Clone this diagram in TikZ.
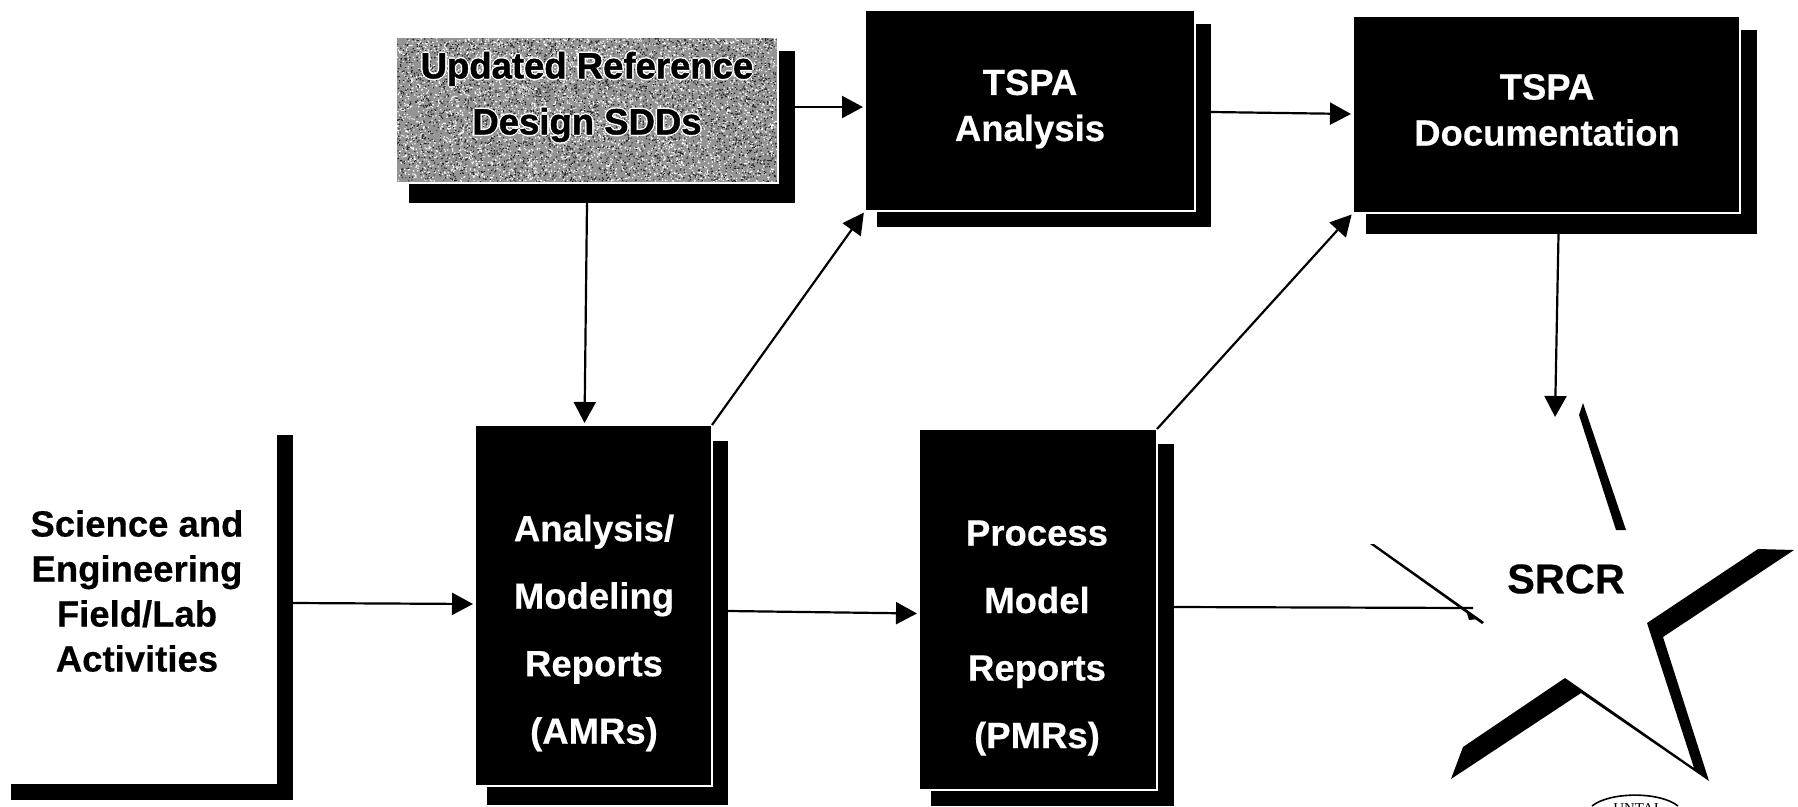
\documentclass[tikz,border=0pt]{standalone}
\usepackage{fontspec}
\setmainfont{Liberation Sans}[BoldFeatures={FakeBold=0.4}]
\newfontfamily\sealfont{Liberation Serif}
\newfontfamily\heavyfont{Liberation Sans Bold}[FakeBold=1.2]
\usetikzlibrary{arrows.meta}
\tikzset{
  px/.style={x=1pt,y=-1pt},
  solid box/.style={draw=none,fill=black,inner sep=0pt,outer sep=0pt},
  pane/.style={solid box,draw=white,line width=1.5pt},
  slab/.style={solid box,anchor=north west},
  arr/.style={line width=2.2pt,shorten >=2pt,-{Triangle[length=21pt,width=22pt]}},
  label/.style={inner sep=0pt,align=center,font=\bfseries\fontsize{36.5}{45}\selectfont},
  wide label/.style={label,text=white,font=\bfseries\fontsize{36.5}{46}\selectfont},
  tall label/.style={label,text=white,font=\bfseries\fontsize{36.5}{67.5}\selectfont},
  gray label/.style={label,font=\heavyfont\fontsize{36.5}{56}\selectfont},
}
\newcommand{\boxat}[9]{%
  \node[slab,minimum width=#6pt-#5pt,minimum height=#8pt-#7pt] (#1s) at (#5,#7) {};%
  \node[pane,anchor=north west,minimum width=#3pt-#2pt,minimum height=#4pt-#9pt] (#1) at (#2,#9) {};}
\begin{document}
\begin{tikzpicture}[px]
\useasboundingbox (0,0) rectangle (1798,806);
\boxat{ana}{865}{1195}{211}{877}{1211}{24}{227}{10}
\boxat{doc}{1353}{1740}{213}{1366}{1757}{30}{234}{16}
\boxat{amr}{475}{712}{786}{487}{728}{441}{805}{425}
\boxat{pmr}{919}{1157}{790}{931}{1174}{444}{806}{429}
\node[wide label] (anat) at (1030,109) {TSPA\\Analysis};
\node[wide label] (doct) at (1547,110) {TSPA\\Documentation};
\node[tall label] (amrt) at (594,633) {Analysis/\\Modeling\\Reports\\(AMRs)};
\node[tall label] (pmrt) at (1037,638) {Process\\Model\\Reports\\(PMRs)};
% updated reference box
\node[slab,minimum width=386pt,minimum height=152pt] (grays) at (409,51) {};
\node[slab,fill=white,minimum width=383pt,minimum height=147pt] (grayw) at (396,37) {};
\node[slab,fill=black!42,minimum width=380pt,minimum height=144pt] (gray) at (397,38) {};
\pgfmathsetseed{7}
\fill[white] foreach \i in {1,...,5000} {
  ({397+378.8*rnd},{38+142.8*rnd}) rectangle +(1.2,1.2)};
\fill[black!85] foreach \i in {1,...,4000} {
  ({397+378.8*rnd},{38+142.8*rnd}) rectangle +(1.2,1.2)};
\foreach \dx/\dy [count=\n] in {-1.5/0,1.5/0,0/-1.5,0/1.5}
  \node[gray label,text=white] (halo\n) at (587+\dx,97+\dy) {Updated Reference\\Design SDDs};
\node[gray label] (grayt) at (587,97) {Updated Reference\\Design SDDs};
% science L
\node[slab,minimum width=16pt,minimum height=365pt] (scv) at (277,435) {};
\node[slab,minimum width=280pt,minimum height=16pt] (sch) at (11,784) {};
\node[label] (sci) at (137,591) {Science and\\Engineering\\Field/Lab\\Activities};
% star
\fill (1583,403) -- (1579,415) -- (1616,530) -- (1626,530) -- cycle;
\fill (1370,544) -- (1374,544) -- (1484,622) -- (1482,624) -- cycle;
\fill (1758,549) -- (1794,550) -- (1663,637) -- (1709,781) -- (1581,693) -- (1451,779) -- (1463,747) -- (1565,678) -- (1694,768) -- (1647,623) -- cycle;
\fill (1466,610) -- (1478,619) -- (1469,620) -- cycle;
\node[inner sep=0pt,font=\bfseries\fontsize{41.5}{46}\selectfont] (srcr) at (1566,579) {SRCR};
% seal
\node[inner sep=0pt,anchor=base,font=\sealfont\fontsize{15}{15}\selectfont] (seal) at (1636,813) {UNTAI};
\draw[line width=1.6pt] (1592,806) .. controls (1610,791.5) and (1660,791.5) .. (1678,806);
% connectors
\coordinate (stT) at (1555,419);
\coordinate (stL) at (1473,608);
\draw[arr] ([yshift=20pt]grays.east) -- ([yshift=3.5pt]ana.west);
\draw[arr] ([yshift=13.5pt]anas.east) -- ([yshift=0.5pt]doc.west);
\draw[arr] ([xshift=-15pt]grays.south) -- ([xshift=-9pt]amr.north);
\draw[arr] (amr.north east) -- (ana.south west);
\draw[arr] (pmr.north east) -- (doc.south west);
\draw[arr] ([yshift=14.5pt]scv.east) -- ([yshift=1.5pt]amr.west);
\draw[arr] ([yshift=12pt]amrs.east) -- ([yshift=-4pt]pmr.west);
\draw[line width=2.2pt] ([yshift=18pt]pmrs.east) -- (stL);
\draw[arr] ([xshift=-3pt]docs.south) -- (stT);
\end{tikzpicture}
\end{document}
